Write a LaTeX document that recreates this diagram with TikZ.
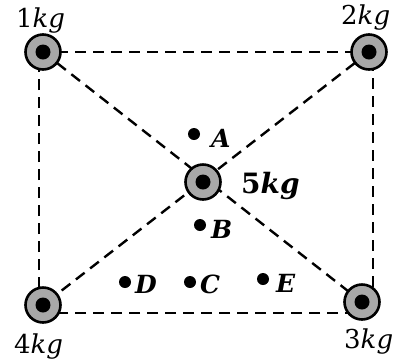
\documentclass[tikz,border=0pt]{standalone}
\usepackage{fontspec}
\setmainfont{DejaVu Serif}
\begin{document}
\begin{tikzpicture}[x=1pt,y=-1pt,
  mass/.style={circle,draw=black,line width=2.6pt,fill=massgray,minimum size=35pt,inner sep=0pt,
    path picture={\fill[black] (path picture bounding box.center) circle (7.5pt);}},
  pt/.style={circle,fill=black,inner sep=0pt,minimum size=12pt},
  lbl/.style={font=\fontsize{26}{30}\selectfont,inner sep=0pt,anchor=base west},
  blbl/.style={font=\fontsize{25}{29}\selectfont\bfseries\itshape,inner sep=0pt,anchor=base west},
  dline/.style={line width=2.4pt,dash pattern=on 11pt off 7pt}]
\definecolor{massgray}{HTML}{A8A8A8}
\useasboundingbox (0,0) rectangle (407,360);
% rectangle corners
\coordinate (c1) at (39,52);
\coordinate (c2) at (373,52);
\coordinate (c3) at (373,313);
\coordinate (c4) at (39,313);
% masses (positions)
\coordinate (p1) at (43,52);
\coordinate (p2) at (369,52);
\coordinate (p3) at (362,302);
\coordinate (p4) at (43,305);
\coordinate (p5) at (203,182);
% dashed lines
\draw[dline] (c1) -- (c2) -- (c3) -- (c4) -- cycle;
\draw[dline] (p1) -- (p3);
\draw[dline] (p2) -- (p4);
% masses
\node[mass] (m1) at (p1) {};
\node[mass] (m2) at (p2) {};
\node[mass] (m3) at (p3) {};
\node[mass] (m4) at (p4) {};
\node[mass] (m5) at (p5) {};
% mass labels
\node[lbl] (l1) at (16,27) {1\textit{kg}};
\node[lbl] (l2) at (341,24) {2\textit{kg}};
\node[lbl] (l3) at (344,348) {3\textit{kg}};
\node[lbl] (l4) at (14,353) {4\textit{kg}};
\node[lbl,font=\fontsize{28}{32}\selectfont\bfseries] (l5) at (241,193) {5\textit{kg}};
% points
\node[pt] (A) at (194,134) {};
\node[pt] (B) at (200,225) {};
\node[pt] (C) at (190,282) {};
\node[pt] (D) at (125,282) {};
\node[pt] (E) at (263,279) {};
\node[blbl] (lA) at (211,147) {A};
\node[blbl] (lB) at (211,238) {B};
\node[blbl] (lC) at (200,293) {C};
\node[blbl] (lD) at (135,293) {D};
\node[blbl] (lE) at (276,292) {E};
\end{tikzpicture}
\end{document}
